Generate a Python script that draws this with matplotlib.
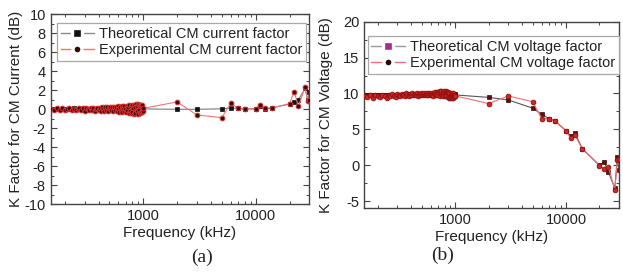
import matplotlib
matplotlib.use("Agg")
import matplotlib.pyplot as plt
from matplotlib.lines import Line2D
from matplotlib.ticker import LogLocator, NullFormatter, FixedLocator, MultipleLocator

plt.rcParams['font.family'] = ['Liberation Sans', 'DejaVu Sans']
plt.rcParams['axes.unicode_minus'] = False

# ---------------- data ----------------
freq_low = [150, 160, 170, 180, 190, 200, 210, 220, 230, 240,
            250, 260, 270, 280, 290, 300, 310, 320, 330, 340,
            350, 360, 370, 380, 390, 400, 410, 420, 430, 440,
            450, 460, 470, 480, 490, 500, 510, 520, 530, 540,
            550, 560, 570, 580, 590, 600, 610, 620, 630, 640,
            650, 660, 670, 680, 690, 700, 710, 720, 730, 740,
            750, 760, 770, 780, 790, 800, 810, 820, 830, 840,
            850, 860, 870, 880, 890, 900, 910, 920, 930, 940,
            950, 960, 970, 980, 990, 1000]
freq_high = [2000, 3000, 5000, 6000, 7000, 8000, 10000, 11000, 12000, 14000,
             20000, 22000, 24000, 27500, 29000, 30000]

a_theo_low = [0.05, 0.02, 0.06, 0.03, 0.08, 0.04, 0.07, 0.02, 0.05, 0.09,
              0.03, 0.06, 0.04, 0.08, 0.02, 0.05, 0.07, 0.03, 0.06, 0.04,
              0.08, 0.05, 0.02, 0.06, 0.04, 0.09, 0.03, 0.05, 0.07, 0.04,
              0.06, 0.02, 0.05, 0.08, 0.03, 0.06, 0.04, 0.07, 0.05, 0.02,
              0.06, 0.04, 0.08, 0.03, 0.05, 0.07, 0.04, 0.06, 0.02, 0.05,
              0.08, 0.04, 0.06, 0.03, 0.07, 0.05, 0.02, 0.06, 0.04, 0.08,
              0.03, 0.05, 0.07, 0.04, 0.06, 0.02, 0.05, 0.08, 0.03, 0.06,
              0.04, 0.07, 0.05, 0.02, 0.06, 0.04, 0.08, 0.03, 0.05, 0.07,
              0.04, 0.06, 0.02, 0.05, 0.03, 0.04]
a_exp_low = [0.02, -0.08, 0.12, -0.05, 0.10, -0.10, 0.05, 0.14, -0.06, 0.08,
             -0.12, 0.06, 0.15, -0.04, 0.09, -0.14, 0.11, 0.03, -0.09, 0.13,
             -0.05, 0.16, -0.13, 0.08, 0.18, -0.07, 0.12, -0.16, 0.20, 0.04,
             -0.15, 0.22, -0.08, 0.25, -0.18, 0.14, 0.27, -0.12, 0.24, -0.20,
             0.28, -0.10, 0.22, -0.22, 0.30, 0.05, -0.25, 0.26, -0.14, 0.32,
             -0.28, 0.18, 0.34, -0.20, 0.08, -0.32, 0.36, -0.06, 0.25, -0.38,
             0.40, -0.15, 0.30, -0.42, 0.45, -0.30, 0.12, 0.48, -0.46, 0.22,
             -0.35, 0.52, -0.20, 0.38, -0.50, 0.55, -0.10, 0.46, -0.44, 0.30,
             -0.30, 0.50, -0.25, 0.42, -0.18, 0.10]
a_theo_high = [0.0, 0.0, 0.05, 0.12, 0.12, 0.02, 0.08, 0.30, 0.0, 0.15,
               0.55, 0.75, 1.0, 2.2, 1.0, 1.8]
a_exp_high = [0.78, -0.60, -0.88, 0.66, 0.10, 0.0, 0.05, 0.50, 0.10, 0.15,
              0.60, 1.85, 0.30, 2.35, 0.90, 1.0]

b_theo_low = [9.75, 9.80, 9.72, 9.78, 9.82, 9.76, 9.80, 9.74, 9.79, 9.83,
              9.77, 9.81, 9.75, 9.80, 9.84, 9.78, 9.82, 9.76, 9.81, 9.85,
              9.79, 9.83, 9.77, 9.82, 9.86, 9.80, 9.84, 9.78, 9.83, 9.87,
              9.81, 9.85, 9.79, 9.84, 9.88, 9.82, 9.86, 9.80, 9.85, 9.89,
              9.83, 9.87, 9.81, 9.86, 9.90, 9.84, 9.88, 9.82, 9.87, 9.91,
              9.85, 9.89, 9.83, 9.88, 9.92, 9.86, 9.90, 9.84, 9.89, 9.93,
              9.87, 9.91, 9.85, 9.90, 9.94, 9.88, 9.92, 9.86, 9.91, 9.95,
              9.89, 9.93, 9.87, 9.92, 9.96, 9.90, 9.94, 9.88, 9.93, 9.97,
              9.91, 9.95, 9.89, 9.94, 9.98, 9.80]
b_exp_low = [9.70, 9.55, 9.85, 9.40, 9.75, 9.60, 9.50, 9.80, 9.65, 9.35,
             9.85, 9.60, 9.95, 9.70, 9.55, 9.90, 9.75, 9.65, 9.95, 9.80,
             9.70, 10.00, 9.80, 9.65, 9.95, 9.85, 10.05, 9.75, 9.90, 9.80,
             10.00, 9.70, 9.95, 9.85, 10.05, 9.80, 9.90, 10.00, 9.75, 9.95,
             9.85, 10.05, 9.75, 10.00, 9.90, 9.80, 10.10, 9.85, 9.70, 10.05,
             9.95, 10.15, 9.80, 10.20, 9.75, 10.25, 10.00, 9.70, 10.30, 9.90,
             10.35, 9.80, 10.25, 9.65, 10.40, 10.10, 9.60, 10.30, 9.70, 10.20,
             9.50, 10.15, 9.40, 10.05, 9.55, 9.35, 10.10, 9.45, 9.90, 9.30,
             10.00, 9.40, 9.85, 9.50, 9.70, 9.65]
b_theo_high = [9.45, 9.10, 7.95, 7.10, 6.50, 6.15, 4.80, 4.05, 4.50, 2.30,
               0.0, 0.50, -0.90, -3.20, 1.10, -0.70]
b_exp_high = [8.60, 9.65, 8.85, 6.50, 6.50, 6.10, 4.75, 3.75, 4.20, 2.25,
              -0.05, -0.55, -0.20, -3.40, 0.75, 0.90]

a_labels = ["Theoretical CM current factor", "Experimental CM current factor"]
b_labels = ["Theoretical CM voltage factor", "Experimental CM voltage factor"]
x_label = "Frequency (kHz)"
a_ylabel = "K Factor for CM Current (dB)"
b_ylabel = "K Factor for CM Voltage (dB)"

freq = freq_low + freq_high
a_theo = a_theo_low + a_theo_high
a_exp = a_exp_low + a_exp_high
b_theo = b_theo_low + b_theo_high
b_exp = b_exp_low + b_exp_high

# ---------------- figure ----------------
fig = plt.figure(figsize=(6.23, 2.74), dpi=100)
axA = fig.add_axes([0.0814, 0.2544, 0.4151, 0.6934])
axB = fig.add_axes([0.5843, 0.2398, 0.4093, 0.6810])

txt = '#222222'
spine_c = '#444444'

def style(ax):
    ax.set_xscale('log')
    ax.set_xlim(150, 30000)
    ax.xaxis.set_major_locator(FixedLocator([1000, 10000]))
    ax.xaxis.set_minor_locator(LogLocator(base=10, subs=range(2, 10)))
    ax.xaxis.set_minor_formatter(NullFormatter())
    ax.set_xticklabels(['1000', '10000'])
    ax.tick_params(which='both', direction='in', top=True, right=True,
                   colors=spine_c, labelcolor=txt, labelsize=10.5, pad=3.5)
    ax.tick_params(which='major', length=4, width=0.8)
    ax.tick_params(which='minor', length=2.2, width=0.7)
    for s in ax.spines.values():
        s.set_color(spine_c)
        s.set_linewidth(1.0)
    ax.set_xlabel(x_label, fontsize=11, color=txt, labelpad=2)

# ----- panel (a)
axA.plot(freq, a_theo, color='#7a7a7a', lw=0.8, marker='s', ms=3,
         mfc='#111111', mec='#111111', mew=0.5, zorder=2)
axA.plot(freq, a_exp, color='#f07575', lw=0.8, marker='o', ms=3.4,
         mfc='#3a0808', mec='#e03030', mew=0.7, zorder=3)
style(axA)
axA.set_ylim(-10, 10)
axA.yaxis.set_major_locator(MultipleLocator(2))
axA.yaxis.set_minor_locator(MultipleLocator(1))
axA.set_ylabel(a_ylabel, fontsize=11, color=txt, labelpad=1)

hA = [Line2D([], [], color='#8a8a8a', lw=1.0, marker='s', ms=6.5, mfc='#111111', mec='white', mew=2.4),
      Line2D([], [], color='#f07575', lw=1.0, marker='o', ms=6.5, mfc='#3a0808', mec='white', mew=2.4)]
legA = axA.legend(hA, a_labels, loc='upper left', bbox_to_anchor=(0.024, 0.954),
                  borderaxespad=0, fontsize=10.5, frameon=True, fancybox=False,
                  edgecolor='#a8a8a8', framealpha=1, handlelength=2.3,
                  handletextpad=0.35, borderpad=0.25, labelspacing=0.15)
legA.get_frame().set_linewidth(0.9)
for t in legA.get_texts():
    t.set_color(txt)

# ----- panel (b)
axB.plot(freq, b_theo, color='#555555', lw=0.8, marker='s', ms=3,
         mfc='#5a1010', mec='#3a0a0a', mew=0.5, zorder=2)
axB.plot(freq, b_exp, color='#f07070', lw=0.8, marker='o', ms=3.4,
         mfc='#d42525', mec='#8a1010', mew=0.6, zorder=3)
style(axB)
axB.set_ylim(-6, 20)
axB.yaxis.set_major_locator(MultipleLocator(5))
axB.yaxis.set_minor_locator(MultipleLocator(2.5))
axB.set_ylabel(b_ylabel, fontsize=11, color=txt, labelpad=7)

hB = [Line2D([], [], color='#9a9a9a', lw=1.0, marker='s', ms=6.5, mfc='#a03090', mec='white', mew=2.4),
      Line2D([], [], color='#f07070', lw=1.0, marker='o', ms=6.5, mfc='#2a0505', mec='white', mew=2.4)]
legB = axB.legend(hB, b_labels, loc='upper left', bbox_to_anchor=(0.0145, 0.923),
                  borderaxespad=0, fontsize=10.5, frameon=True, fancybox=False,
                  edgecolor='#a8a8a8', framealpha=1, handlelength=2.3,
                  handletextpad=0.35, borderpad=0.25, labelspacing=0.15)
legB.get_frame().set_linewidth(0.9)
for t in legB.get_texts():
    t.set_color(txt)

# panel captions
fig.text(201.7 / 623, 1 - 257 / 274, "(a)", family=['Liberation Serif', 'DejaVu Serif'],
         fontsize=14, ha='center', va='center', color=txt)
fig.text(442.7 / 623, 1 - 255 / 274, "(b)", family=['Liberation Serif', 'DejaVu Serif'],
         fontsize=14, ha='center', va='center', color=txt)

fig.savefig('out.png', dpi=100)
